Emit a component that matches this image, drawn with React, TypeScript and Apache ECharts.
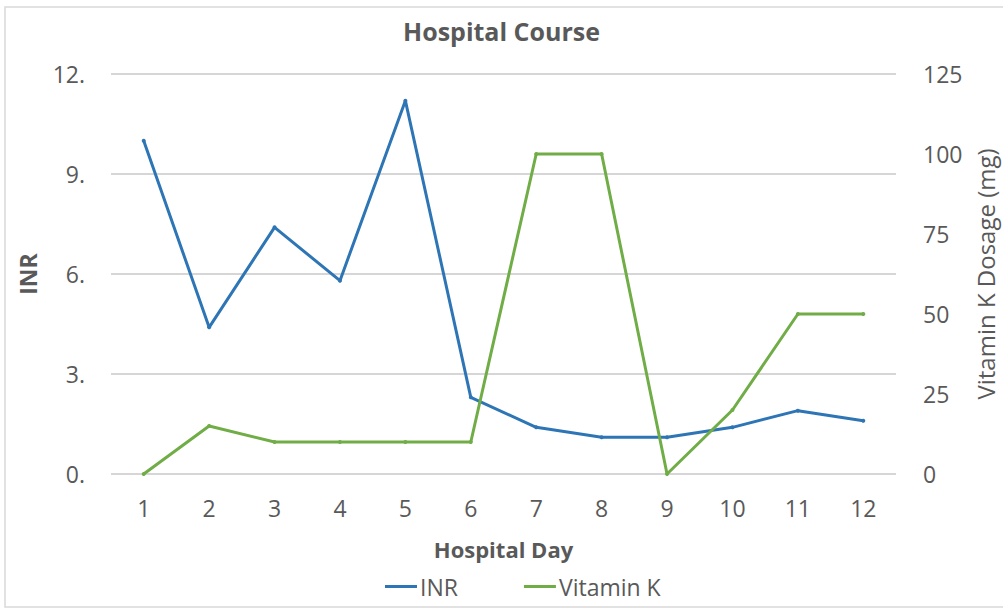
import React, { useEffect, useRef } from "react";
import * as echarts from "echarts";

const days = ["1", "2", "3", "4", "5", "6", "7", "8", "9", "10", "11", "12"];
const inr = [10.0, 4.4, 7.4, 5.8, 11.2, 2.3, 1.4, 1.1, 1.1, 1.4, 1.9, 1.6];
const vitaminK = [0, 15, 10, 10, 10, 10, 100, 100, 0, 20, 50, 50];

const FONT = "'Open Sans', 'Liberation Sans', sans-serif";
const GRAY = "#595959";

export default function App() {
  const ref = useRef<HTMLDivElement>(null);
  useEffect(() => {
    if (!ref.current) return;
    const chart = echarts.init(ref.current, null, { renderer: "svg" });
    chart.setOption({
      animation: false,
      backgroundColor: "#ffffff",
      textStyle: { fontFamily: FONT },
      graphic: [
        {
          type: "rect",
          shape: { x: 5, y: 7, width: 1010, height: 600 },
          style: { fill: "none", stroke: "#d9d9d9", lineWidth: 1.5 },
          silent: true,
        },
      ],
      title: {
        text: "Hospital Course",
        left: "center",
        top: 13,
        textStyle: { fontFamily: FONT, fontSize: 25, fontWeight: "bold", color: GRAY },
      },
      legend: {
        bottom: 6,
        left: 380,
        itemGap: 66,
        itemWidth: 32,
        itemHeight: 3,
        icon: "rect",
        textStyle: { fontFamily: FONT, fontSize: 23, color: GRAY, padding: [0, 0, 0, -2] },
        data: ["INR", "Vitamin K"],
      },
      grid: {
        left: 111,
        right: 107,
        top: 74,
        bottom: 135,
        containLabel: false,
        outerBoundsMode: "none",
      },
      xAxis: {
        type: "category",
        data: days,
        boundaryGap: true,
        name: "Hospital Day",
        nameLocation: "middle",
        nameGap: 64,
        nameTextStyle: { fontFamily: FONT, fontSize: 22, fontWeight: "bold", color: GRAY },
        axisLine: { show: false },
        axisTick: { show: false },
        axisLabel: { fontFamily: FONT, fontSize: 23, color: GRAY, margin: 22 },
      },
      yAxis: [
        {
          type: "value",
          min: 0,
          max: 12,
          interval: 3,
          name: "INR",
          nameLocation: "middle",
          nameGap: 72,
          nameRotate: 90,
          nameTextStyle: { fontFamily: FONT, fontSize: 23, fontWeight: "bold", color: GRAY },
          axisLine: { show: false },
          axisTick: { show: false },
          axisLabel: {
            fontFamily: FONT,
            fontSize: 23,
            color: GRAY,
            margin: 26,
            formatter: (v: number) => `${v}.`,
          },
          splitLine: { lineStyle: { color: "#c8c8c8", width: 1.5 } },
        },
        {
          type: "value",
          min: 0,
          max: 125,
          interval: 25,
          name: "Vitamin K Dosage (mg)",
          nameLocation: "middle",
          nameGap: 74,
          nameRotate: 90,
          nameTextStyle: { fontFamily: FONT, fontSize: 24, color: GRAY },
          axisLine: { show: false },
          axisTick: { show: false },
          axisLabel: { fontFamily: FONT, fontSize: 23, color: GRAY, margin: 27 },
          splitLine: { show: false },
        },
      ],
      series: [
        {
          name: "INR",
          type: "line",
          data: inr,
          yAxisIndex: 0,
          symbol: "circle",
          symbolSize: 4,
          color: "#2E75B6",
          lineStyle: { width: 3, color: "#2E75B6" },
          itemStyle: { color: "#2E75B6" },
        },
        {
          name: "Vitamin K",
          type: "line",
          data: vitaminK,
          yAxisIndex: 1,
          symbol: "circle",
          symbolSize: 4,
          color: "#70AD47",
          lineStyle: { width: 3, color: "#70AD47" },
          itemStyle: { color: "#70AD47" },
        },
      ],
    });
    return () => chart.dispose();
  }, []);
  return <div ref={ref} style={{ width: 1003, height: 609, position: "absolute", left: 0, top: 0 }} />;
}
